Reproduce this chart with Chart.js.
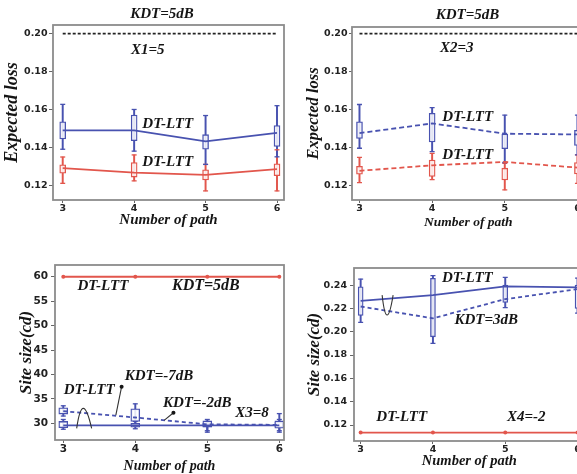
<!DOCTYPE html>
<html>
<head>
<meta charset="utf-8">
<script src="https://cdn.jsdelivr.net/npm/chart.js@4.4.0/dist/chart.umd.min.js"></script>
<style>
  html, body { margin: 0; padding: 0; background: #fff; width: 577px; height: 474px; overflow: hidden; }
  .panel { position: absolute; }
</style>
</head>
<body>
<div class="panel" style="left:0px;top:0px"><canvas id="c1" width="290" height="230"></canvas></div>
<div class="panel" style="left:290px;top:0px"><canvas id="c2" width="300" height="231"></canvas></div>
<div class="panel" style="left:0px;top:240px"><canvas id="c3" width="290" height="234"></canvas></div>
<div class="panel" style="left:290px;top:240px"><canvas id="c4" width="300" height="234"></canvas></div>
<script>
// number of path, shared by all four panels
const paths = [3, 4, 5, 6];

// top left: expected loss, X1=5 (solid)
const lossTicks = [0.12, 0.14, 0.16, 0.18, 0.20];
const loss1Ref = [0.20, 0.20, 0.20, 0.20];
const loss1Blue = [0.149, 0.149, 0.1432, 0.1476];
const loss1BlueBox = [[0.1444, 0.1535], [0.1435, 0.157], [0.139, 0.1467], [0.1405, 0.1515]];
const loss1BlueWhisk = [[0.139, 0.1627], [0.138, 0.160], [0.131, 0.1568], [0.135, 0.162]];
const loss1Red = [0.129, 0.1267, 0.1255, 0.1285];
const loss1RedBox = [[0.1264, 0.1308], [0.1243, 0.132], [0.1228, 0.1281], [0.125, 0.1313]];
const loss1RedWhisk = [[0.121, 0.1349], [0.1223, 0.136], [0.117, 0.131], [0.117, 0.1387]];

// top right: expected loss, X2=3 (dashed)
const loss2Ref = [0.20, 0.20, 0.20, 0.20];
const loss2Blue = [0.1475, 0.1526, 0.1472, 0.1468];
const loss2BlueBox = [[0.1447, 0.1535], [0.1428, 0.158], [0.1393, 0.147], [0.141, 0.149]];
const loss2BlueWhisk = [[0.1395, 0.1626], [0.1377, 0.161], [0.132, 0.157], [0.136, 0.157]];
const loss2Red = [0.1276, 0.1305, 0.1323, 0.1293];
const loss2RedBox = [[0.1258, 0.130], [0.1246, 0.1333], [0.1228, 0.129], [0.126, 0.132]];
const loss2RedWhisk = [[0.1214, 0.1347], [0.123, 0.1368], [0.1175, 0.1316], [0.121, 0.136]];

// bottom left: site size, X3=8
const site3Ticks = [30, 35, 40, 45, 50, 55, 60];
const site3Red = [60, 60, 60, 60];
const site3Dashed = [32.5, 31.2, 29.8, 29.7];
const site3DashedBox = [[31.9, 33.2], [30.4, 33.0], [29.3, 30.5], [29.0, 30.5]];
const site3DashedWhisk = [[31.5, 33.6], [29.5, 34.0], [28.2, 30.8], [28.2, 32.0]];
const site3Solid = [29.6, 29.6, 29.6, 29.6];
const site3SolidBox = [[29.1, 30.4], [29.2, 30.0], [29.2, 30.1], [29.2, 30.2]];
const site3SolidWhisk = [[28.8, 30.8], [28.9, 30.4], [28.5, 30.4], [28.5, 30.8]];

// bottom right: site size, X4=-2
const site4Ticks = [0.12, 0.14, 0.16, 0.18, 0.20, 0.22, 0.24];
const site4Red = [0.1135, 0.1135, 0.1135, 0.1135];
const site4Solid = [0.2265, 0.2314, 0.2389, 0.238];
const site4Dashed = [0.2216, 0.2115, 0.2279, 0.2365];
const site4Box = [[0.214, 0.2385], [0.1956, 0.2458], [0.225, 0.240], [0.220, 0.240]];
const site4Whisk = [[0.208, 0.245], [0.190, 0.248], [0.2207, 0.2466], [0.216, 0.246]];

const blue = 'rgb(72, 82, 176)';
const red = 'rgb(226, 86, 76)';
const serif = '"Liberation Serif", "Times New Roman", serif';

function lineSet(vals, color, dash, dots) {
  return {
    type: 'line',
    data: paths.map((x, i) => ({ x: x, y: vals[i] })),
    borderColor: color,
    borderWidth: 1.8,
    borderDash: dash || [],
    pointRadius: dots ? 2 : 0,
    pointBackgroundColor: color,
    pointBorderWidth: 0,
    order: 1
  };
}

function boxSets(box, whisk, color, w) {
  return [
    { type: 'bar', data: paths.map((x, i) => ({ x: x, y: whisk[i] })),
      backgroundColor: color, barThickness: 1.3, grouped: false, order: 4 },
    { type: 'bar', data: paths.map((x, i) => ({ x: x, y: box[i] })),
      backgroundColor: 'rgba(255,255,255,0.85)', borderColor: color, borderWidth: 1.3,
      borderSkipped: false, barThickness: w, grouped: false, order: 3 },
    { type: 'line', showLine: false,
      data: paths.flatMap((x, i) => [{ x: x, y: whisk[i][0] }, { x: x, y: whisk[i][1] }]),
      pointStyle: 'line', pointRadius: 2.5, pointBorderColor: color, pointBorderWidth: 1.3, order: 3 }
  ];
}

// gray box round the plot area
const frame = {
  id: 'frame',
  afterDraw(chart) {
    const a = chart.chartArea, ctx = chart.ctx;
    ctx.save();
    ctx.strokeStyle = '#8c8c8c';
    ctx.lineWidth = 1.8;
    ctx.strokeRect(a.left, a.top, a.right - a.left, a.bottom - a.top);
    ctx.restore();
  }
};

// text labels, brackets and pointers, placed in data units
function notesPlugin(notes, arcs, pointers) {
  return {
    id: 'notes',
    afterDraw(chart) {
      const ctx = chart.ctx, xs = chart.scales.x, ys = chart.scales.y;
      const px = p => [xs.getPixelForValue(p[0]), ys.getPixelForValue(p[1])];
      ctx.save();
      ctx.fillStyle = '#151515';
      ctx.textAlign = 'center';
      ctx.textBaseline = 'middle';
      notes.forEach(n => {
        ctx.font = 'italic bold ' + (n.size || 15) + 'px ' + serif;
        ctx.fillText(n.text, xs.getPixelForValue(n.x), ys.getPixelForValue(n.y));
      });
      ctx.strokeStyle = '#333';
      ctx.lineWidth = 1.1;
      (arcs || []).forEach(a => {
        const p0 = px(a[0]), pk = px(a[1]), p2 = px(a[2]);
        const cx = (4 * pk[0] - p0[0] - p2[0]) / 2, cy = (4 * pk[1] - p0[1] - p2[1]) / 2;
        ctx.beginPath();
        ctx.moveTo(p0[0], p0[1]);
        ctx.quadraticCurveTo(cx, cy, p2[0], p2[1]);
        ctx.stroke();
      });
      (pointers || []).forEach(p => {
        const d = px(p[0]), e = px(p[1]);
        ctx.beginPath();
        ctx.moveTo(d[0], d[1]);
        ctx.lineTo(e[0], e[1]);
        ctx.stroke();
        ctx.beginPath();
        ctx.arc(d[0], d[1], 2, 0, Math.PI * 2);
        ctx.fill();
      });
      ctx.restore();
    }
  };
}

function makeChart(id, o) {
  const tickFont = { family: '"DejaVu Sans", sans-serif', size: o.tickSize, weight: 'bold' };
  return new Chart(document.getElementById(id), {
    type: 'bar',
    data: { datasets: o.datasets },
    options: {
      responsive: false,
      animation: false,
      layout: { padding: o.pad },
      plugins: { legend: { display: false }, tooltip: { enabled: false } },
      scales: {
        x: {
          type: 'linear', offset: false, min: o.xMin, max: o.xMax,
          afterBuildTicks: s => { s.ticks = paths.map(v => ({ value: v })); },
          afterFit: s => { s.height = o.xH; },
          ticks: { font: tickFont, color: '#222', padding: 0, callback: v => String(v) },
          grid: { offset: false, drawOnChartArea: false, tickLength: 3, color: '#666' },
          border: { display: false },
          title: { display: true, text: 'Number of path', color: '#151515',
            font: { family: serif, size: o.xTitleSize, style: 'italic', weight: 'bold', lineHeight: 1.1 },
            padding: { top: 0, bottom: o.xTitlePad } }
        },
        y: {
          min: o.yMin, max: o.yMax,
          afterBuildTicks: s => { s.ticks = o.yTicks.map(v => ({ value: v })); },
          afterFit: s => { s.width = o.yW; },
          ticks: { font: tickFont, color: '#222', padding: o.yTickPad, callback: o.yFmt },
          grid: { drawOnChartArea: false, tickLength: o.yTickLen, color: '#666' },
          border: { display: false },
          title: { display: true, text: o.yTitle, color: '#151515',
            font: { family: serif, size: o.yTitleSize, style: 'italic', weight: 'bold', lineHeight: 1.1 },
            padding: { top: o.yTitlePad, bottom: 0 } }
        }
      }
    },
    plugins: [frame, notesPlugin(o.notes, o.arcs, o.pointers)]
  });
}

const fmt2 = v => v.toFixed(2);

makeChart('c1', {
  datasets: [
    lineSet(loss1Ref, '#222', [3, 2]),
    lineSet(loss1Blue, blue), lineSet(loss1Red, red),
    ...boxSets(loss1BlueBox, loss1BlueWhisk, blue, 6),
    ...boxSets(loss1RedBox, loss1RedWhisk, red, 6)
  ],
  pad: { top: 25, right: 6, left: 0, bottom: 0 }, tickSize: 9.5,
  xMin: 2.864, xMax: 6.098, xH: 30, xTitlePad: 1.5, xTitleSize: 15,
  yMin: 0.1122, yMax: 0.2046, yTicks: lossTicks, yFmt: fmt2, yW: 53,
  yTickLen: 4, yTickPad: 1.5, yTitle: 'Expected loss', yTitleSize: 18, yTitlePad: 2,
  notes: [
    { text: 'KDT=5dB', x: 4.39, y: 0.2104 },
    { text: 'X1=5', x: 4.19, y: 0.1914 },
    { text: 'DT-LTT', x: 4.47, y: 0.1523 },
    { text: 'DT-LTT', x: 4.47, y: 0.1323 }
  ]
});

makeChart('c2', {
  datasets: [
    lineSet(loss2Ref, '#222', [3, 2]),
    lineSet(loss2Blue, blue, [5, 3]), lineSet(loss2Red, red, [5, 3]),
    ...boxSets(loss2BlueBox, loss2BlueWhisk, blue, 6),
    ...boxSets(loss2RedBox, loss2RedWhisk, red, 6)
  ],
  pad: { top: 27, right: 4, left: 0, bottom: 0 }, tickSize: 9.5,
  xMin: 2.897, xMax: 6.10, xH: 31, xTitlePad: 0.75, xTitleSize: 13.5,
  yMin: 0.1122, yMax: 0.2035, yTicks: lossTicks, yFmt: fmt2, yW: 62,
  yTickLen: 3, yTickPad: 1.5, yTitle: 'Expected loss', yTitleSize: 16.5, yTitlePad: 15,
  notes: [
    { text: 'KDT=5dB', x: 4.486, y: 0.2099 },
    { text: 'X2=3', x: 4.34, y: 0.1926 },
    { text: 'DT-LTT', x: 4.49, y: 0.156 },
    { text: 'DT-LTT', x: 4.49, y: 0.136 }
  ]
});

makeChart('c3', {
  datasets: [
    lineSet(site3Red, red, [], true),
    lineSet(site3Dashed, blue, [4, 3]), lineSet(site3Solid, blue),
    ...boxSets(site3DashedBox, site3DashedWhisk, blue, 9),
    ...boxSets(site3SolidBox, site3SolidWhisk, blue, 9)
  ],
  pad: { top: 25, right: 6, left: 0, bottom: 0 }, tickSize: 10.5,
  xMin: 2.885, xMax: 6.065, xH: 34, xTitlePad: 0, xTitleSize: 14,
  yMin: 26.6, yMax: 62.4, yTicks: site3Ticks, yFmt: v => String(v), yW: 55,
  yTickLen: 4, yTickPad: 3, yTitle: 'Site size(cd)', yTitleSize: 17, yTitlePad: 17,
  notes: [
    { text: 'DT-LTT', x: 3.55, y: 58.1 },
    { text: 'KDT=5dB', x: 4.98, y: 58.1, size: 16 },
    { text: 'DT-LTT', x: 3.36, y: 36.8 },
    { text: 'KDT=-7dB', x: 4.33, y: 39.7 },
    { text: 'KDT=-2dB', x: 4.86, y: 34.1 },
    { text: 'X3=8', x: 5.62, y: 32.05 }
  ],
  arcs: [[[3.186, 28.97], [3.278, 33.07], [3.394, 28.97]]],
  pointers: [[[3.81, 37.5], [3.73, 31.7]], [[4.53, 32.17], [4.40, 30.6]]]
});

makeChart('c4', {
  datasets: [
    lineSet(site4Red, red, [], true),
    lineSet(site4Solid, blue), lineSet(site4Dashed, blue, [4, 3]),
    ...boxSets(site4Box, site4Whisk, blue, 5)
  ],
  pad: { top: 28, right: 4, left: 0, bottom: 0 }, tickSize: 9.5,
  xMin: 2.908, xMax: 6.099, xH: 33, xTitlePad: 4.5, xTitleSize: 14.5,
  yMin: 0.1063, yMax: 0.2546, yTicks: site4Ticks, yFmt: fmt2, yW: 64,
  yTickLen: 4, yTickPad: 3, yTitle: 'Site size(cd)', yTitleSize: 17, yTitlePad: 15,
  notes: [
    { text: 'DT-LTT', x: 4.476, y: 0.246 },
    { text: 'KDT=3dB', x: 4.737, y: 0.210 },
    { text: 'DT-LTT', x: 3.568, y: 0.1271 },
    { text: 'X4=-2', x: 5.29, y: 0.1271 }
  ],
  arcs: [[[3.297, 0.2314], [3.366, 0.2143], [3.449, 0.2314]]]
});
</script>
</body>
</html>
